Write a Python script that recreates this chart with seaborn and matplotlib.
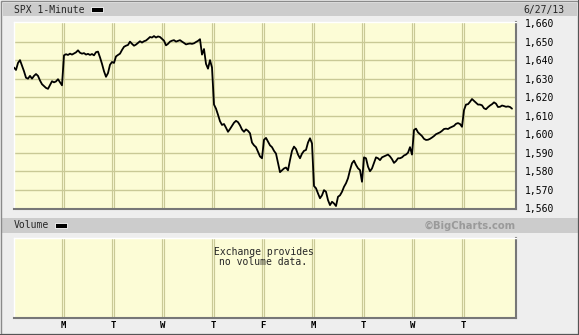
import numpy as np
import pandas as pd
import matplotlib
matplotlib.use("Agg")
import matplotlib.pyplot as plt
from matplotlib.patches import Rectangle
import seaborn as sns

# ---------------- data (SPX, sampled evenly through each session) ----------------
day_labels = ["M", "T", "W", "T", "F", "M", "T", "W", "T"]
y_ticks = [1560, 1570, 1580, 1590, 1600, 1610, 1620, 1630, 1640, 1650, 1660]
chart_date = "6/27/13"

fri_0614 = [1636, 1634.7, 1638.5, 1640, 1637, 1634, 1630.5, 1630, 1631.5, 1630,
            1631.5, 1632.5, 1631.5, 1629, 1627, 1626, 1625, 1624.5, 1626.5, 1628.6,
            1628, 1628.5, 1629.7, 1628, 1626.4]
mon_0617 = [1642.6, 1643.2, 1642.8, 1643.5, 1643, 1643.6, 1644.2, 1645.3, 1644, 1643.5,
            1643.8, 1643, 1643.4, 1642.8, 1643.3, 1642.6, 1644.3, 1644.6, 1641.5, 1638,
            1634, 1631, 1633, 1637.5, 1639]
tue_0618 = [1638.5, 1642, 1642.8, 1643.5, 1645.5, 1647.2, 1647.8, 1648.2, 1650, 1648.8,
            1647.8, 1648.4, 1649.3, 1650.2, 1649.5, 1650.2, 1650.6, 1651.5, 1652.5, 1652.2,
            1653, 1652.2, 1652.8, 1652.5, 1651.5]
wed_0619 = [1650.5, 1648, 1648.8, 1650, 1650.5, 1650.8, 1650, 1650.4, 1650.8, 1650,
            1649.3, 1648.5, 1648.8, 1649, 1648.8, 1649.1, 1649.8, 1650.4, 1651.3, 1643,
            1646, 1638, 1635.4, 1640, 1636]
thu_0620 = [1616, 1613.8, 1610.5, 1607, 1605, 1605.5, 1603.5, 1601.3, 1602.8, 1604.5,
            1606.2, 1607.2, 1606.5, 1604.8, 1602.5, 1601.3, 1602.6, 1601.8, 1600.5, 1595.5,
            1594, 1593, 1590.5, 1588, 1587]
fri_0621 = [1597, 1598, 1596, 1594, 1593, 1591, 1589.5, 1584.5, 1579.5, 1580.5,
            1581.5, 1582, 1580.5, 1586, 1591, 1593.3, 1592, 1589, 1587, 1589.5,
            1591, 1591.5, 1595.5, 1597.8, 1595]
mon_0624 = [1572, 1570.8, 1568, 1565.4, 1567, 1569.8, 1568.9, 1564.4, 1561.7, 1563.5,
            1562.6, 1561.2, 1566.2, 1567, 1568.9, 1571.6, 1573.5, 1576.2, 1580.6, 1584.3,
            1585.7, 1583.4, 1581.6, 1580.6, 1574.3]
tue_0625 = [1587.5, 1587, 1582.5, 1580, 1581.5, 1584.5, 1587.5, 1587, 1586, 1587.5,
            1588, 1588.5, 1589, 1588, 1586.5, 1584.5, 1585.5, 1587, 1587, 1587.5,
            1588.5, 1589, 1590, 1593, 1589]
wed_0626 = [1602.3, 1603, 1601, 1600, 1599, 1597.5, 1596.9, 1597, 1597.5, 1598.2,
            1599, 1600, 1600.5, 1601, 1601.8, 1602.8, 1603, 1602.8, 1603.5, 1604,
            1604.5, 1605.6, 1606, 1605.5, 1604]
thu_0627 = [1613, 1616, 1616.2, 1617.5, 1619, 1618, 1617, 1616, 1616, 1615.6,
            1614, 1613.5, 1614.6, 1615.5, 1616.2, 1617.2, 1616.5, 1614.7, 1614.8, 1615.5,
            1615.2, 1614.8, 1615, 1614.7, 1613.8]

sessions = [fri_0614, mon_0617, tue_0618, wed_0619, thu_0620,
            fri_0621, mon_0624, tue_0625, wed_0626, thu_0627]

rows = []
for k, sess in enumerate(sessions):
    n = len(sess)
    for i, p in enumerate(sess):
        rows.append({"t": k + (i + 0.5) / n, "price": p})
df = pd.DataFrame(rows)

# ---------------- style ----------------
sns.set_theme(style="white")
plt.rcParams["font.family"] = ["DejaVu Sans Mono", "DejaVu Sans"]

W, H = 579, 335
fig = plt.figure(figsize=(W / 100, H / 100), dpi=100)
fig.patch.set_facecolor("#eeeeee")


def fx(px):
    return px / W


def fy(py):
    return 1 - py / H


def frect(x0, y0, x1, y1, **kw):
    fig.add_artist(Rectangle((fx(x0), fy(y1)), fx(x1) - fx(x0), (y1 - y0) / H,
                             transform=fig.transFigure, **kw))


# header bars
frect(3, 3, 577, 16, facecolor="#cccccc", edgecolor="none")
frect(2, 218, 578, 233, facecolor="#cccccc", edgecolor="none")

YELLOW = "#fcfcd6"
GRID = "#c9c996"
XL = ((14 - 13) / 50, (516 - 13) / 50)

# ---------------- main price panel ----------------
ax = fig.add_axes([fx(14), fy(209), fx(516) - fx(14), (209 - 22) / H])
ax.set_facecolor(YELLOW)
for v in y_ticks[1:-1]:
    ax.axhline(v, color=GRID, lw=1.0, zorder=1)
for d in range(1, 10):
    for off in (-0.021, 0.021):
        ax.axvline(d + off, color=GRID, lw=0.85, zorder=1)

sns.lineplot(data=df, x="t", y="price", estimator=None, sort=True,
             color="black", lw=1.3, ax=ax, zorder=3, legend=False)

ax.set_xlim(*XL)
ax.set_ylim(1559.6, 1660.6)
ax.set_xticks([])
ax.yaxis.tick_right()
ax.set_yticks(y_ticks)
ax.set_yticklabels([f"{v:,}" for v in y_ticks])
ax.tick_params(axis="y", length=0, pad=6.5, labelsize=7, colors="black")
for lab in ax.get_yticklabels():
    lab.set_horizontalalignment("left")
ax.set_xlabel("")
ax.set_ylabel("")
for s in ("top", "left"):
    ax.spines[s].set_color("#ffffff")
    ax.spines[s].set_linewidth(1.0)
for s in ("bottom", "right"):
    ax.spines[s].set_color("#777777")
    ax.spines[s].set_linewidth(1.5)

# ---------------- volume panel ----------------
vax = fig.add_axes([fx(14), fy(318), fx(516) - fx(14), (318 - 238) / H])
vax.set_facecolor(YELLOW)
for d in range(1, 10):
    for off in (-0.021, 0.021):
        vax.axvline(d + off, color=GRID, lw=0.85, zorder=1)
vax.set_xlim(*XL)
vax.set_ylim(0, 1)
vax.set_yticks([])
vax.set_xticks(range(1, 10))
vax.set_xticklabels(day_labels, fontweight="bold", fontsize=6.5)
vax.tick_params(axis="x", length=0, pad=2.5, colors="black")
for s in ("top", "left"):
    vax.spines[s].set_color("#ffffff")
    vax.spines[s].set_linewidth(1.0)
for s in ("bottom", "right"):
    vax.spines[s].set_color("#777777")
    vax.spines[s].set_linewidth(1.5)

# ---------------- texts ----------------
fig.text(fx(14), fy(10), "SPX 1-Minute", fontsize=7, va="center", ha="left")
frect(91, 7, 103, 12, facecolor="black", edgecolor="white", lw=0.6)
fig.text(fx(565), fy(10), chart_date, fontsize=7, va="center", ha="right")

fig.text(fx(14), fy(225.5), "Volume", fontsize=7, va="center", ha="left")
frect(55, 223, 67, 228, facecolor="black", edgecolor="white", lw=0.6)
fig.text(fx(516), fy(225.5), "\u00a9BigCharts.com", fontsize=7.2, va="center",
         ha="right", color="#9a9a9a", fontweight="bold", family="DejaVu Sans")

fig.text(fx(263.5), fy(252), "Exchange provides", fontsize=7, va="center", ha="center")
fig.text(fx(263.5), fy(262), "no volume data.", fontsize=7, va="center", ha="center")

# outer frame
frect(0.5, 0.5, 578, 334, facecolor="none", edgecolor="#8a8a8a", lw=1.0)
frect(577.5, 0, 579, 335, facecolor="#555555", edgecolor="none")
frect(0, 333.5, 579, 335, facecolor="#555555", edgecolor="none")

fig.savefig("out.png", dpi=100, facecolor=fig.get_facecolor())
